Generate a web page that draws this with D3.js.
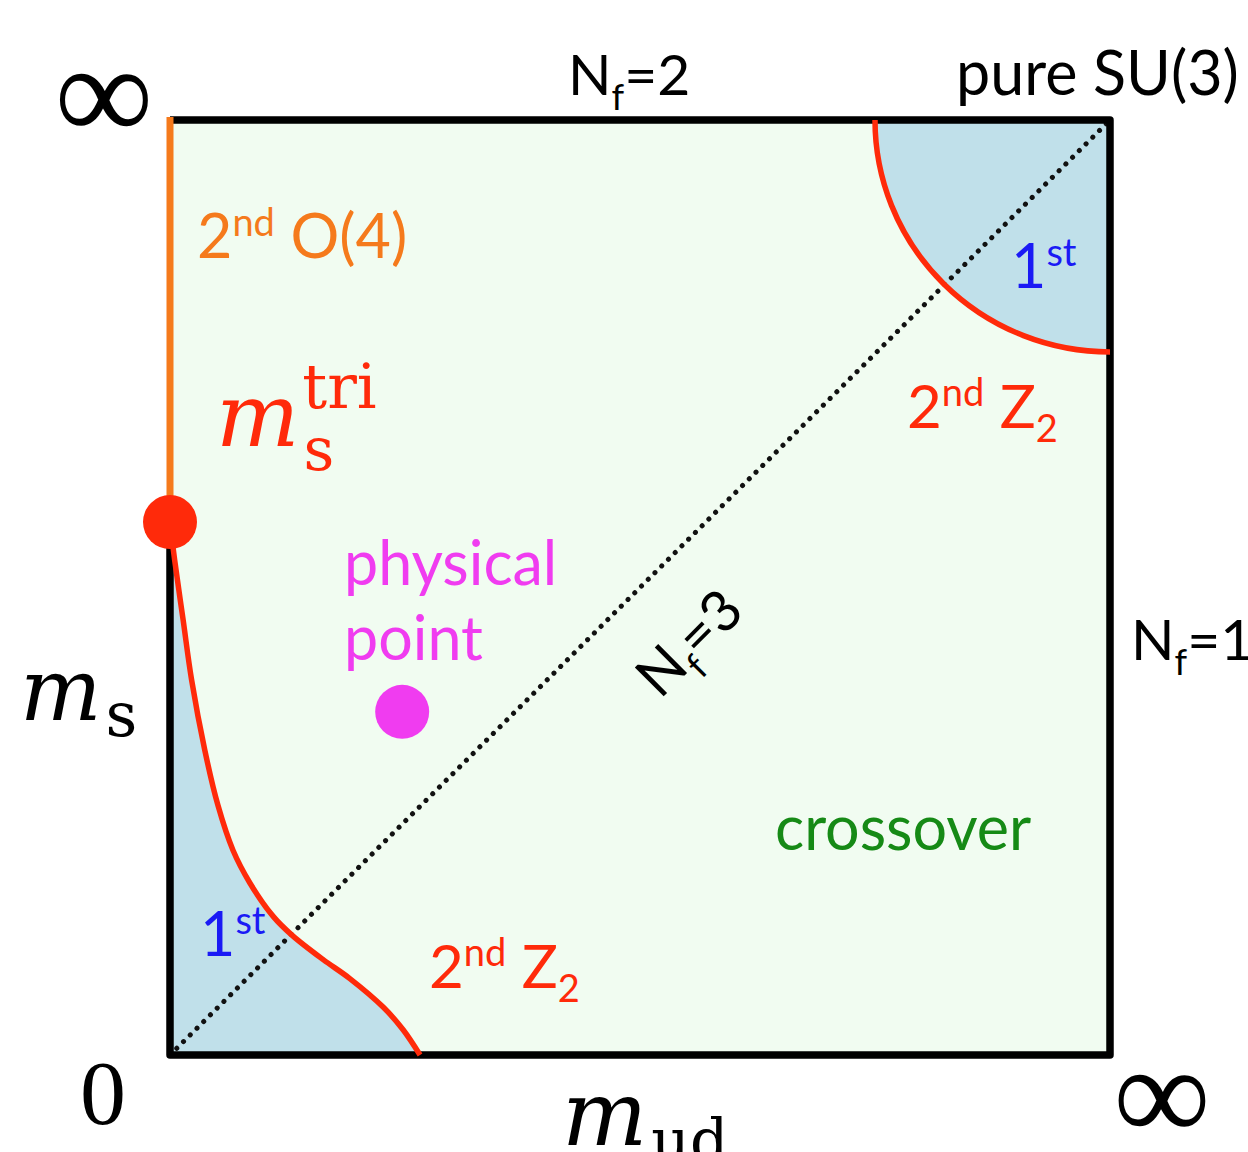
<!DOCTYPE html>
<html>
<head>
<meta charset="utf-8">
<script src="https://cdn.jsdelivr.net/npm/d3@7"></script>
<style>
  html, body { margin: 0; padding: 0; background: #fff; }
  svg { display: block; }
  .sans { font-family: Lato, "Open Sans", sans-serif; }
  .math { font-family: "DejaVu Serif", "Liberation Serif", serif; }
  .serif { font-family: "Liberation Serif", "DejaVu Serif", serif; }
</style>
</head>
<body>
<svg id="chart" width="1248" height="1152"></svg>
<script>
// Columbia plot: order of the QCD thermal transition in the (m_ud, m_s) plane.
// Both axes run from 0 to infinity, mapped onto [0, 1].

// Lower-left boundary of the first-order region (m_ud, m_s), from the
// tricritical point on the m_s axis down to the m_ud axis.
const chiralBoundaryUd = [0.000, 0.005, 0.014, 0.023, 0.037, 0.051, 0.067, 0.085, 0.110, 0.130, 0.163, 0.191, 0.227, 0.248, 0.266];
const chiralBoundaryS  = [0.570, 0.529, 0.465, 0.401, 0.326, 0.267, 0.219, 0.184, 0.148, 0.128, 0.102, 0.082, 0.051, 0.027, 0.000];

// Quarter-circle boundary of the first-order region around pure SU(3):
// radius along m_ud and along m_s.
const su3Radius = [0.25, 0.248];

// Special points
const tricritical = [0.0, 0.570];      // m_s^tri on the m_s axis
const physicalPoint = [0.247, 0.367];  // physical quark masses

// Corner labels: origin, top of the m_s axis, end of the m_ud axis
const axisTicks = ["0", "\u221E", "\u221E"];

const svg = d3.select("#chart");
const x = d3.scaleLinear().domain([0, 1]).range([170, 1110]);
const y = d3.scaleLinear().domain([0, 1]).range([1055, 120]);

const colors = {
  crossover: "#f1fcf1",
  first: "#c0e0ea",
  red: "#ff2a0a",
  orange: "#f57a1c",
  magenta: "#f03cf0",
  blue: "#1a1af5",
  green: "#168a16"
};

// Background: crossover region
svg.append("rect")
  .attr("x", x(0)).attr("y", y(1))
  .attr("width", x(1) - x(0)).attr("height", y(0) - y(1))
  .attr("fill", colors.crossover);

// Lower-left first-order region
const chiralPts = chiralBoundaryUd.map((u, i) => [u, chiralBoundaryS[i]]);
const line = d3.line().x(d => x(d[0])).y(d => y(d[1])).curve(d3.curveCatmullRom.alpha(0.5));
svg.append("path")
  .attr("d", line(chiralPts) + `L${x(0)},${y(0)}Z`)
  .attr("fill", colors.first);

// Upper-right first-order region (quarter circle around (1,1))
const rx = x(1) - x(1 - su3Radius[0]);
const ry = y(1 - su3Radius[1]) - y(1);
const su3Arc = `M${x(1 - su3Radius[0])},${y(1)} A${rx},${ry} 0 0 0 ${x(1)},${y(1 - su3Radius[1])}`;
svg.append("path")
  .attr("d", su3Arc + ` L${x(1)},${y(1)} Z`)
  .attr("fill", colors.first);

// Nf = 3 diagonal
svg.append("line")
  .attr("x1", x(0)).attr("y1", y(0))
  .attr("x2", x(1)).attr("y2", y(1))
  .attr("stroke", "#111").attr("stroke-width", 5)
  .attr("stroke-linecap", "round")
  .attr("stroke-dasharray", "0.1 9.4");

// Frame: black edges, orange O(4) line on the m_s axis above the tricritical point
svg.append("path")
  .attr("d", `M${x(0)},${y(tricritical[1])} L${x(0)},${y(0)} L${x(1)},${y(0)} L${x(1)},${y(1)} L${x(0)},${y(1)}`)
  .attr("fill", "none").attr("stroke", "#000").attr("stroke-width", 7.5)
  .attr("stroke-linejoin", "round");
svg.append("line")
  .attr("x1", x(0)).attr("y1", y(1) - 3)
  .attr("x2", x(0)).attr("y2", y(tricritical[1]))
  .attr("stroke", colors.orange).attr("stroke-width", 7);

// Second-order Z2 boundaries
svg.append("path")
  .attr("d", line(chiralPts))
  .attr("fill", "none").attr("stroke", colors.red).attr("stroke-width", 5.5);
svg.append("path")
  .attr("d", su3Arc)
  .attr("fill", "none").attr("stroke", colors.red).attr("stroke-width", 5.5);

// Tricritical point and physical point
svg.append("circle")
  .attr("cx", x(tricritical[0])).attr("cy", y(tricritical[1]))
  .attr("r", 27).attr("fill", colors.red);
svg.append("circle")
  .attr("cx", x(physicalPoint[0])).attr("cy", y(physicalPoint[1]))
  .attr("r", 27).attr("fill", colors.magenta);

// ---------- Text ----------
function label(px, py, parts, opts) {
  const t = svg.append("text")
    .attr("x", px).attr("y", py)
    .attr("class", opts.cls || "sans")
    .attr("font-size", opts.size)
    .attr("fill", opts.color || "#000");
  if (opts.anchor) t.attr("text-anchor", opts.anchor);
  if (opts.rotate) t.attr("transform", `rotate(${opts.rotate},${px},${py})`);
  parts.forEach(p => {
    const s = t.append("tspan").text(p.t);
    if (p.dy) s.attr("dy", p.dy);
    if (p.size) s.attr("font-size", p.size);
    if (p.dx) s.attr("dx", p.dx);
    if (p.style) s.attr("font-style", p.style);
  });
  return t;
}

// Corner values
label(104, 140, [{t: axisTicks[1]}], {cls: "serif", size: 138, anchor: "middle"});
label(103, 1124, [{t: axisTicks[0]}], {cls: "serif", size: 92, anchor: "middle"});
label(1162, 1140, [{t: axisTicks[2]}], {cls: "serif", size: 136, anchor: "middle"});

// Axis titles
label(20, 720, [{t: "m", style: "italic"}, {t: "s", size: 62, dy: 16, dx: 4}], {cls: "math", size: 86});
label(562, 1145, [{t: "m", style: "italic"}, {t: "ud", size: 60, dy: 16, dx: 4}], {cls: "math", size: 90});

// Edge labels
label(568, 95, [{t: "N"}, {t: "f", size: 36, dy: 15}, {t: "=2", dy: -15}], {size: 57});
label(956, 95, [{t: "pure SU(3)"}], {size: 61});
label(1131, 660, [{t: "N"}, {t: "f", size: 36, dy: 15}, {t: "=1", dy: -15}], {size: 57});

// Region labels
label(197, 258, [{t: "2"}, {t: "nd", size: 38, dy: -22}, {t: " O(4)", dy: 22}], {size: 61, color: colors.orange});
label(1011, 288, [{t: "1"}, {t: "st", size: 38, dy: -22}], {size: 61, color: colors.blue});
label(200, 956, [{t: "1"}, {t: "st", size: 38, dy: -22}], {size: 61, color: colors.blue});
label(907, 428, [{t: "2"}, {t: "nd", size: 38, dy: -22}, {t: " Z", dy: 22}, {t: "2", size: 38, dy: 14}], {size: 60, color: colors.red});
label(429, 988, [{t: "2"}, {t: "nd", size: 38, dy: -22}, {t: " Z", dy: 22}, {t: "2", size: 38, dy: 14}], {size: 60, color: colors.red});
label(344, 585, [{t: "physical"}], {size: 61, color: colors.magenta});
label(344, 660, [{t: "point"}], {size: 61, color: colors.magenta});
label(775, 850, [{t: "crossover"}], {size: 61, color: colors.green});

// Tricritical mass label
label(216, 446, [{t: "m", style: "italic"}, {t: "s", size: 60, dy: 24, dx: 4}, {t: "tri", size: 62, dy: -62, dx: -32}], {cls: "math", size: 88, color: colors.red});

// Nf = 3 along the diagonal
label(660, 700, [{t: "N"}, {t: "f", size: 36, dy: 15}, {t: "=3", dy: -15}], {size: 57, rotate: -45});
</script>
</body>
</html>
